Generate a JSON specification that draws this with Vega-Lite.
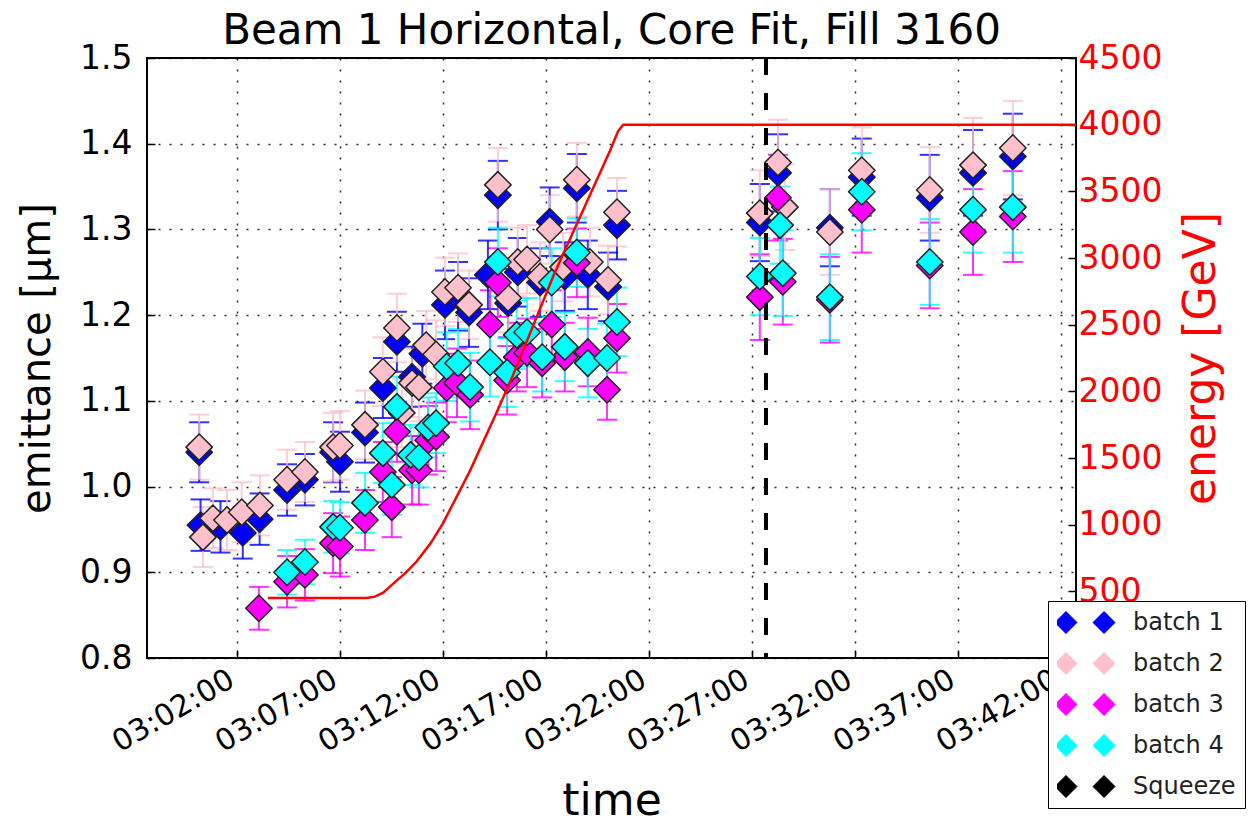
{
  "$schema": "https://vega.github.io/schema/vega-lite/v6.json",
  "width": 929,
  "height": 600,
  "autosize": {"type": "none"},
  "padding": {"left": 147, "top": 58, "right": 174, "bottom": 167},
  "background": "white",
  "config": {
    "font": "DejaVu Sans",
    "view": {"stroke": "black", "strokeWidth": 2},
    "axis": {
      "labelFont": "DejaVu Sans", "titleFont": "DejaVu Sans", "titleFontWeight": "normal",
      "domain": false, "tickColor": "black", "labelColor": "black", "titleColor": "black",
      "gridColor": "black", "gridDash": [2, 9], "gridWidth": 1.5, "gridOpacity": 0.85,
      "tickSize": -8, "tickWidth": 1.5
    }
  },
  "title": {"text": "Beam 1 Horizontal, Core Fit, Fill 3160", "fontSize": 42, "fontWeight": "normal", "font": "DejaVu Sans", "offset": -11, "color": "black", "frame": "group"},
  "datasets": {
    "emit": [
      {"t": "2012-10-26T03:00:10", "batch": "batch 1", "emittance": 1.040, "err": 0.035},
      {"t": "2012-10-26T03:00:14", "batch": "batch 1", "emittance": 0.955, "err": 0.03},
      {"t": "2012-10-26T03:01:12", "batch": "batch 1", "emittance": 0.953, "err": 0.03},
      {"t": "2012-10-26T03:02:17", "batch": "batch 1", "emittance": 0.946, "err": 0.03},
      {"t": "2012-10-26T03:03:06", "batch": "batch 1", "emittance": 0.962, "err": 0.03},
      {"t": "2012-10-26T03:04:26", "batch": "batch 1", "emittance": 0.996, "err": 0.03},
      {"t": "2012-10-26T03:05:18", "batch": "batch 1", "emittance": 1.008, "err": 0.03},
      {"t": "2012-10-26T03:06:40", "batch": "batch 1", "emittance": 1.040, "err": 0.035},
      {"t": "2012-10-26T03:07:00", "batch": "batch 1", "emittance": 1.029, "err": 0.035},
      {"t": "2012-10-26T03:08:13", "batch": "batch 1", "emittance": 1.063, "err": 0.035},
      {"t": "2012-10-26T03:09:05", "batch": "batch 1", "emittance": 1.115, "err": 0.035},
      {"t": "2012-10-26T03:09:46", "batch": "batch 1", "emittance": 1.169, "err": 0.035},
      {"t": "2012-10-26T03:10:30", "batch": "batch 1", "emittance": 1.128, "err": 0.035},
      {"t": "2012-10-26T03:11:00", "batch": "batch 1", "emittance": 1.155, "err": 0.035},
      {"t": "2012-10-26T03:12:06", "batch": "batch 1", "emittance": 1.212, "err": 0.04},
      {"t": "2012-10-26T03:12:44", "batch": "batch 1", "emittance": 1.222, "err": 0.04},
      {"t": "2012-10-26T03:13:16", "batch": "batch 1", "emittance": 1.203, "err": 0.04},
      {"t": "2012-10-26T03:14:11", "batch": "batch 1", "emittance": 1.247, "err": 0.04},
      {"t": "2012-10-26T03:14:40", "batch": "batch 1", "emittance": 1.340, "err": 0.04},
      {"t": "2012-10-26T03:15:10", "batch": "batch 1", "emittance": 1.214, "err": 0.04},
      {"t": "2012-10-26T03:15:38", "batch": "batch 1", "emittance": 1.250, "err": 0.04},
      {"t": "2012-10-26T03:16:43", "batch": "batch 1", "emittance": 1.238, "err": 0.04},
      {"t": "2012-10-26T03:17:11", "batch": "batch 1", "emittance": 1.309, "err": 0.04},
      {"t": "2012-10-26T03:17:55", "batch": "batch 1", "emittance": 1.245, "err": 0.04},
      {"t": "2012-10-26T03:18:30", "batch": "batch 1", "emittance": 1.348, "err": 0.04},
      {"t": "2012-10-26T03:19:02", "batch": "batch 1", "emittance": 1.247, "err": 0.04},
      {"t": "2012-10-26T03:20:01", "batch": "batch 1", "emittance": 1.233, "err": 0.04},
      {"t": "2012-10-26T03:20:27", "batch": "batch 1", "emittance": 1.305, "err": 0.04},
      {"t": "2012-10-26T03:27:23", "batch": "batch 1", "emittance": 1.308, "err": 0.045},
      {"t": "2012-10-26T03:28:16", "batch": "batch 1", "emittance": 1.366, "err": 0.045},
      {"t": "2012-10-26T03:30:47", "batch": "batch 1", "emittance": 1.302, "err": 0.045},
      {"t": "2012-10-26T03:32:20", "batch": "batch 1", "emittance": 1.361, "err": 0.045},
      {"t": "2012-10-26T03:35:38", "batch": "batch 1", "emittance": 1.337, "err": 0.05},
      {"t": "2012-10-26T03:37:44", "batch": "batch 1", "emittance": 1.366, "err": 0.05},
      {"t": "2012-10-26T03:39:40", "batch": "batch 1", "emittance": 1.385, "err": 0.05},

      {"t": "2012-10-26T03:00:10", "batch": "batch 2", "emittance": 1.046, "err": 0.038},
      {"t": "2012-10-26T03:00:21", "batch": "batch 2", "emittance": 0.941, "err": 0.035},
      {"t": "2012-10-26T03:00:50", "batch": "batch 2", "emittance": 0.963, "err": 0.035},
      {"t": "2012-10-26T03:01:31", "batch": "batch 2", "emittance": 0.961, "err": 0.035},
      {"t": "2012-10-26T03:02:14", "batch": "batch 2", "emittance": 0.970, "err": 0.035},
      {"t": "2012-10-26T03:03:07", "batch": "batch 2", "emittance": 0.978, "err": 0.035},
      {"t": "2012-10-26T03:04:26", "batch": "batch 2", "emittance": 1.008, "err": 0.035},
      {"t": "2012-10-26T03:05:18", "batch": "batch 2", "emittance": 1.017, "err": 0.035},
      {"t": "2012-10-26T03:06:40", "batch": "batch 2", "emittance": 1.046, "err": 0.04},
      {"t": "2012-10-26T03:07:00", "batch": "batch 2", "emittance": 1.048, "err": 0.04},
      {"t": "2012-10-26T03:08:13", "batch": "batch 2", "emittance": 1.072, "err": 0.04},
      {"t": "2012-10-26T03:09:05", "batch": "batch 2", "emittance": 1.134, "err": 0.04},
      {"t": "2012-10-26T03:09:46", "batch": "batch 2", "emittance": 1.185, "err": 0.04},
      {"t": "2012-10-26T03:10:00", "batch": "batch 2", "emittance": 1.086, "err": 0.04},
      {"t": "2012-10-26T03:10:30", "batch": "batch 2", "emittance": 1.121, "err": 0.04},
      {"t": "2012-10-26T03:10:50", "batch": "batch 2", "emittance": 1.116, "err": 0.04},
      {"t": "2012-10-26T03:11:11", "batch": "batch 2", "emittance": 1.165, "err": 0.04},
      {"t": "2012-10-26T03:11:40", "batch": "batch 2", "emittance": 1.154, "err": 0.04},
      {"t": "2012-10-26T03:12:06", "batch": "batch 2", "emittance": 1.227, "err": 0.04},
      {"t": "2012-10-26T03:12:44", "batch": "batch 2", "emittance": 1.232, "err": 0.04},
      {"t": "2012-10-26T03:13:16", "batch": "batch 2", "emittance": 1.212, "err": 0.04},
      {"t": "2012-10-26T03:14:40", "batch": "batch 2", "emittance": 1.352, "err": 0.043},
      {"t": "2012-10-26T03:15:10", "batch": "batch 2", "emittance": 1.220, "err": 0.04},
      {"t": "2012-10-26T03:15:38", "batch": "batch 2", "emittance": 1.262, "err": 0.04},
      {"t": "2012-10-26T03:16:05", "batch": "batch 2", "emittance": 1.265, "err": 0.04},
      {"t": "2012-10-26T03:16:43", "batch": "batch 2", "emittance": 1.245, "err": 0.04},
      {"t": "2012-10-26T03:17:11", "batch": "batch 2", "emittance": 1.300, "err": 0.04},
      {"t": "2012-10-26T03:17:50", "batch": "batch 2", "emittance": 1.256, "err": 0.04},
      {"t": "2012-10-26T03:18:30", "batch": "batch 2", "emittance": 1.358, "err": 0.043},
      {"t": "2012-10-26T03:19:08", "batch": "batch 2", "emittance": 1.262, "err": 0.04},
      {"t": "2012-10-26T03:20:01", "batch": "batch 2", "emittance": 1.241, "err": 0.04},
      {"t": "2012-10-26T03:20:27", "batch": "batch 2", "emittance": 1.320, "err": 0.04},
      {"t": "2012-10-26T03:27:23", "batch": "batch 2", "emittance": 1.319, "err": 0.05},
      {"t": "2012-10-26T03:28:16", "batch": "batch 2", "emittance": 1.378, "err": 0.05},
      {"t": "2012-10-26T03:28:36", "batch": "batch 2", "emittance": 1.326, "err": 0.05},
      {"t": "2012-10-26T03:30:47", "batch": "batch 2", "emittance": 1.297, "err": 0.05},
      {"t": "2012-10-26T03:32:20", "batch": "batch 2", "emittance": 1.369, "err": 0.05},
      {"t": "2012-10-26T03:35:38", "batch": "batch 2", "emittance": 1.346, "err": 0.05},
      {"t": "2012-10-26T03:37:44", "batch": "batch 2", "emittance": 1.375, "err": 0.055},
      {"t": "2012-10-26T03:39:40", "batch": "batch 2", "emittance": 1.395, "err": 0.055},

      {"t": "2012-10-26T03:03:04", "batch": "batch 3", "emittance": 0.858, "err": 0.025},
      {"t": "2012-10-26T03:04:26", "batch": "batch 3", "emittance": 0.889, "err": 0.03},
      {"t": "2012-10-26T03:05:18", "batch": "batch 3", "emittance": 0.897, "err": 0.03},
      {"t": "2012-10-26T03:06:40", "batch": "batch 3", "emittance": 0.934, "err": 0.035},
      {"t": "2012-10-26T03:07:00", "batch": "batch 3", "emittance": 0.930, "err": 0.035},
      {"t": "2012-10-26T03:08:13", "batch": "batch 3", "emittance": 0.961, "err": 0.035},
      {"t": "2012-10-26T03:09:05", "batch": "batch 3", "emittance": 1.017, "err": 0.035},
      {"t": "2012-10-26T03:09:31", "batch": "batch 3", "emittance": 0.976, "err": 0.035},
      {"t": "2012-10-26T03:09:46", "batch": "batch 3", "emittance": 1.064, "err": 0.035},
      {"t": "2012-10-26T03:10:30", "batch": "batch 3", "emittance": 1.019, "err": 0.04},
      {"t": "2012-10-26T03:10:50", "batch": "batch 3", "emittance": 1.019, "err": 0.04},
      {"t": "2012-10-26T03:11:17", "batch": "batch 3", "emittance": 1.054, "err": 0.04},
      {"t": "2012-10-26T03:11:40", "batch": "batch 3", "emittance": 1.058, "err": 0.04},
      {"t": "2012-10-26T03:12:11", "batch": "batch 3", "emittance": 1.115, "err": 0.04},
      {"t": "2012-10-26T03:12:41", "batch": "batch 3", "emittance": 1.121, "err": 0.04},
      {"t": "2012-10-26T03:13:19", "batch": "batch 3", "emittance": 1.107, "err": 0.04},
      {"t": "2012-10-26T03:14:17", "batch": "batch 3", "emittance": 1.189, "err": 0.04},
      {"t": "2012-10-26T03:14:40", "batch": "batch 3", "emittance": 1.238, "err": 0.04},
      {"t": "2012-10-26T03:15:07", "batch": "batch 3", "emittance": 1.124, "err": 0.04},
      {"t": "2012-10-26T03:15:35", "batch": "batch 3", "emittance": 1.151, "err": 0.04},
      {"t": "2012-10-26T03:16:05", "batch": "batch 3", "emittance": 1.156, "err": 0.04},
      {"t": "2012-10-26T03:16:49", "batch": "batch 3", "emittance": 1.144, "err": 0.04},
      {"t": "2012-10-26T03:17:17", "batch": "batch 3", "emittance": 1.189, "err": 0.04},
      {"t": "2012-10-26T03:17:55", "batch": "batch 3", "emittance": 1.151, "err": 0.04},
      {"t": "2012-10-26T03:18:30", "batch": "batch 3", "emittance": 1.261, "err": 0.04},
      {"t": "2012-10-26T03:19:02", "batch": "batch 3", "emittance": 1.157, "err": 0.04},
      {"t": "2012-10-26T03:19:58", "batch": "batch 3", "emittance": 1.113, "err": 0.035},
      {"t": "2012-10-26T03:20:27", "batch": "batch 3", "emittance": 1.173, "err": 0.04},
      {"t": "2012-10-26T03:27:23", "batch": "batch 3", "emittance": 1.221, "err": 0.05},
      {"t": "2012-10-26T03:28:16", "batch": "batch 3", "emittance": 1.337, "err": 0.05},
      {"t": "2012-10-26T03:28:30", "batch": "batch 3", "emittance": 1.239, "err": 0.05},
      {"t": "2012-10-26T03:30:47", "batch": "batch 3", "emittance": 1.218, "err": 0.05},
      {"t": "2012-10-26T03:32:20", "batch": "batch 3", "emittance": 1.323, "err": 0.05},
      {"t": "2012-10-26T03:35:38", "batch": "batch 3", "emittance": 1.258, "err": 0.05},
      {"t": "2012-10-26T03:37:44", "batch": "batch 3", "emittance": 1.297, "err": 0.05},
      {"t": "2012-10-26T03:39:40", "batch": "batch 3", "emittance": 1.315, "err": 0.053},

      {"t": "2012-10-26T03:04:26", "batch": "batch 4", "emittance": 0.900, "err": 0.026},
      {"t": "2012-10-26T03:05:18", "batch": "batch 4", "emittance": 0.912, "err": 0.026},
      {"t": "2012-10-26T03:06:40", "batch": "batch 4", "emittance": 0.953, "err": 0.03},
      {"t": "2012-10-26T03:07:00", "batch": "batch 4", "emittance": 0.952, "err": 0.03},
      {"t": "2012-10-26T03:08:13", "batch": "batch 4", "emittance": 0.981, "err": 0.035},
      {"t": "2012-10-26T03:09:05", "batch": "batch 4", "emittance": 1.039, "err": 0.035},
      {"t": "2012-10-26T03:09:31", "batch": "batch 4", "emittance": 1.002, "err": 0.035},
      {"t": "2012-10-26T03:09:46", "batch": "batch 4", "emittance": 1.093, "err": 0.035},
      {"t": "2012-10-26T03:10:26", "batch": "batch 4", "emittance": 1.037, "err": 0.035},
      {"t": "2012-10-26T03:10:50", "batch": "batch 4", "emittance": 1.034, "err": 0.035},
      {"t": "2012-10-26T03:11:17", "batch": "batch 4", "emittance": 1.069, "err": 0.035},
      {"t": "2012-10-26T03:11:40", "batch": "batch 4", "emittance": 1.074, "err": 0.035},
      {"t": "2012-10-26T03:12:11", "batch": "batch 4", "emittance": 1.140, "err": 0.04},
      {"t": "2012-10-26T03:12:44", "batch": "batch 4", "emittance": 1.144, "err": 0.04},
      {"t": "2012-10-26T03:13:19", "batch": "batch 4", "emittance": 1.116, "err": 0.04},
      {"t": "2012-10-26T03:14:17", "batch": "batch 4", "emittance": 1.145, "err": 0.04},
      {"t": "2012-10-26T03:14:40", "batch": "batch 4", "emittance": 1.262, "err": 0.04},
      {"t": "2012-10-26T03:15:07", "batch": "batch 4", "emittance": 1.133, "err": 0.04},
      {"t": "2012-10-26T03:15:35", "batch": "batch 4", "emittance": 1.177, "err": 0.04},
      {"t": "2012-10-26T03:16:05", "batch": "batch 4", "emittance": 1.180, "err": 0.04},
      {"t": "2012-10-26T03:16:49", "batch": "batch 4", "emittance": 1.151, "err": 0.04},
      {"t": "2012-10-26T03:17:17", "batch": "batch 4", "emittance": 1.238, "err": 0.04},
      {"t": "2012-10-26T03:17:55", "batch": "batch 4", "emittance": 1.163, "err": 0.04},
      {"t": "2012-10-26T03:18:30", "batch": "batch 4", "emittance": 1.273, "err": 0.04},
      {"t": "2012-10-26T03:19:02", "batch": "batch 4", "emittance": 1.144, "err": 0.04},
      {"t": "2012-10-26T03:19:58", "batch": "batch 4", "emittance": 1.150, "err": 0.04},
      {"t": "2012-10-26T03:20:27", "batch": "batch 4", "emittance": 1.192, "err": 0.04},
      {"t": "2012-10-26T03:27:23", "batch": "batch 4", "emittance": 1.245, "err": 0.045},
      {"t": "2012-10-26T03:28:22", "batch": "batch 4", "emittance": 1.305, "err": 0.045},
      {"t": "2012-10-26T03:28:30", "batch": "batch 4", "emittance": 1.249, "err": 0.05},
      {"t": "2012-10-26T03:30:47", "batch": "batch 4", "emittance": 1.221, "err": 0.05},
      {"t": "2012-10-26T03:32:20", "batch": "batch 4", "emittance": 1.344, "err": 0.045},
      {"t": "2012-10-26T03:35:38", "batch": "batch 4", "emittance": 1.262, "err": 0.05},
      {"t": "2012-10-26T03:37:44", "batch": "batch 4", "emittance": 1.323, "err": 0.05},
      {"t": "2012-10-26T03:39:40", "batch": "batch 4", "emittance": 1.326, "err": 0.053}
    ],
    "energy": [
      {"t": "2012-10-26T03:03:30", "energy": 450},
      {"t": "2012-10-26T03:08:18", "energy": 450},
      {"t": "2012-10-26T03:08:42", "energy": 460},
      {"t": "2012-10-26T03:09:06", "energy": 490},
      {"t": "2012-10-26T03:09:36", "energy": 560},
      {"t": "2012-10-26T03:10:12", "energy": 640},
      {"t": "2012-10-26T03:10:42", "energy": 720},
      {"t": "2012-10-26T03:11:24", "energy": 860},
      {"t": "2012-10-26T03:12:00", "energy": 1010},
      {"t": "2012-10-26T03:12:36", "energy": 1190},
      {"t": "2012-10-26T03:13:18", "energy": 1400},
      {"t": "2012-10-26T03:14:36", "energy": 1840},
      {"t": "2012-10-26T03:15:24", "energy": 2120},
      {"t": "2012-10-26T03:17:24", "energy": 2880},
      {"t": "2012-10-26T03:20:06", "energy": 3800},
      {"t": "2012-10-26T03:20:30", "energy": 3950},
      {"t": "2012-10-26T03:20:45", "energy": 4000},
      {"t": "2012-10-26T03:42:45", "energy": 4000}
    ],
    "squeeze": [
      {"t": "2012-10-26T03:27:41", "event": "Squeeze"}
    ]
  },
  "encoding": {
    "x": {
      "field": "t", "type": "temporal",
      "scale": {"domain": [{"year": 2012, "month": 10, "date": 26, "hours": 2, "minutes": 57, "seconds": 38}, {"year": 2012, "month": 10, "date": 26, "hours": 3, "minutes": 42, "seconds": 44}]},
      "axis": {
        "title": "time", "format": "%H:%M:%S", "labelAngle": -30, "labelAlign": "right", "labelBaseline": "top",
        "labelFontSize": 30, "titleFontSize": 44, "labelPadding": 14, "labelOffset": -13, "labelOverlap": false, "titlePadding": 22, "grid": true,
        "values": [
          {"year": 2012, "month": 10, "date": 26, "hours": 3, "minutes": 2},
          {"year": 2012, "month": 10, "date": 26, "hours": 3, "minutes": 7},
          {"year": 2012, "month": 10, "date": 26, "hours": 3, "minutes": 12},
          {"year": 2012, "month": 10, "date": 26, "hours": 3, "minutes": 17},
          {"year": 2012, "month": 10, "date": 26, "hours": 3, "minutes": 22},
          {"year": 2012, "month": 10, "date": 26, "hours": 3, "minutes": 27},
          {"year": 2012, "month": 10, "date": 26, "hours": 3, "minutes": 32},
          {"year": 2012, "month": 10, "date": 26, "hours": 3, "minutes": 37},
          {"year": 2012, "month": 10, "date": 26, "hours": 3, "minutes": 42}
        ]
      }
    }
  },
  "layer": [
    {
      "data": {"name": "emit"},
      "encoding": {
        "y": {
          "field": "emittance", "type": "quantitative", "scale": {"domain": [0.8, 1.5], "nice": false, "zero": false},
          "axis": {"title": "emittance [μm]", "values": [0.8, 0.9, 1.0, 1.1, 1.2, 1.3, 1.4, 1.5], "format": ".1f", "labelFontSize": 33, "titleFontSize": 40, "labelPadding": 23, "titlePadding": 22, "grid": true}
        },
        "color": {
          "field": "batch", "type": "nominal",
          "scale": {"domain": ["batch 1", "batch 2", "batch 3", "batch 4", "Squeeze"], "range": ["#0000ff", "#ffc0cb", "#ff00ff", "#00ffff", "#000000"]},
          "legend": {
            "title": null, "orient": "none", "legendX": 901, "legendY": 543,
            "fillColor": "white", "strokeColor": "black", "padding": 9,
            "labelFontSize": 24, "labelFont": "DejaVu Sans", "labelColor": "#222222",
            "symbolSize": 484, "symbolOffset": 16, "labelOffset": 36, "rowPadding": 16, "clipHeight": 25,
            "symbolType": "M-2.73,0L-1.73,-1L-0.73,0L-1.73,1Z M0.73,0L1.73,-1L2.73,0L1.73,1Z",
            "symbolStrokeColor": "#222222", "symbolStrokeWidth": 1, "symbolOpacity": 1,
            "zindex": 5
          }
        }
      },
      "layer": [
        {
          "mark": {"type": "errorbar", "ticks": {"size": 20, "thickness": 2}, "thickness": 2, "opacity": 0.8},
          "encoding": {"yError": {"field": "err"}}
        },
        {
          "mark": {"type": "point", "shape": "diamond", "filled": true, "size": 700, "stroke": "#222222", "strokeWidth": 1.5, "strokeJoin": "round", "opacity": 1}
        }
      ]
    },
    {
      "data": {"name": "squeeze"},
      "mark": {"type": "rule", "color": "black", "strokeWidth": 4, "strokeDash": [17, 18]},
      "encoding": {}
    },
    {
      "data": {"name": "energy"},
      "mark": {"type": "line", "color": "#ff0000", "strokeWidth": 2.5, "clip": true},
      "encoding": {
        "y": {
          "field": "energy", "type": "quantitative", "scale": {"domain": [0, 4500], "nice": false},
          "axis": {"orient": "right", "title": "energy [GeV]", "titleColor": "#ff0000", "labelColor": "#ff0000", "format": "d", "values": [0, 500, 1000, 1500, 2000, 2500, 3000, 3500, 4000, 4500], "labelFontSize": 33, "titleFontSize": 44, "labelPadding": 10, "titlePadding": 18, "titleAngle": -90, "titleBaseline": "top", "grid": false}
        }
      }
    }
  ],
  "resolve": {"scale": {"y": "independent"}}
}
